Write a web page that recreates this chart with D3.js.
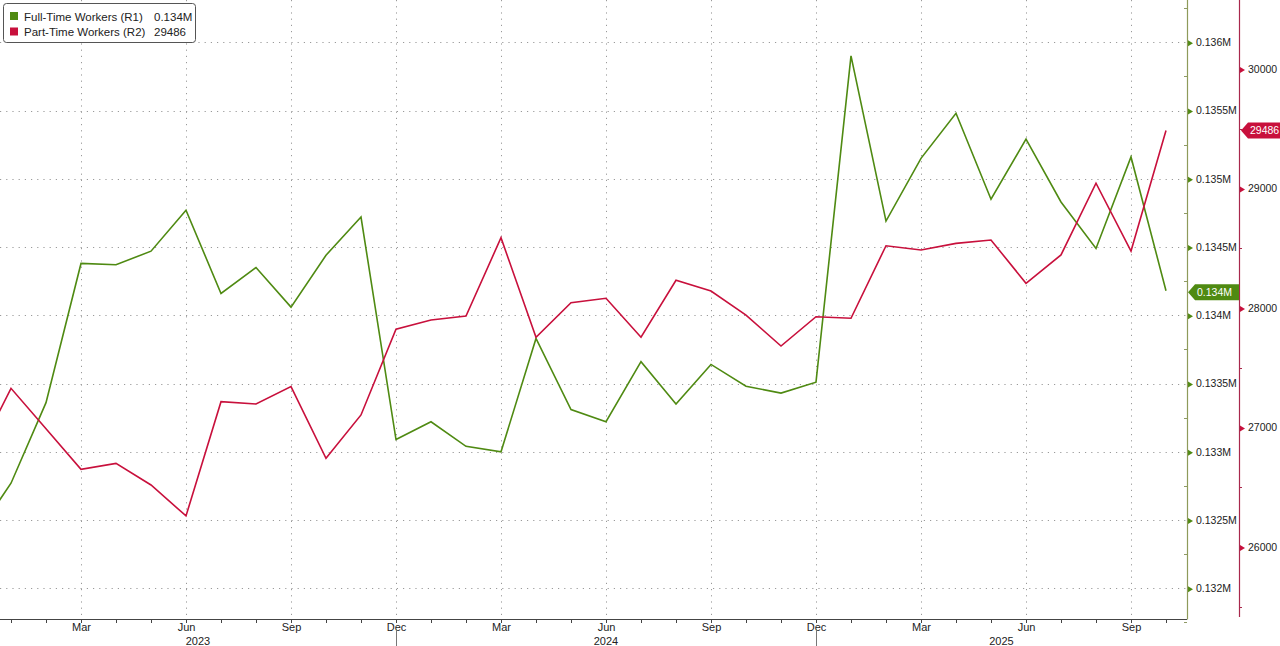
<!DOCTYPE html>
<html>
<head>
<meta charset="utf-8">
<script src="https://cdn.jsdelivr.net/npm/d3@7"></script>
<style>
  body { margin: 0; background: #fff; }
  svg { display: block; font-family: "Liberation Sans", Arial, sans-serif; }
</style>
</head>
<body>
<svg id="chart"></svg>
<script>
// monthly points, Dec 2022 .. Oct 2025 (first one sits just off the left edge)
var months = d3.timeMonth.range(new Date(2022, 11, 1), new Date(2025, 10, 1))

var fullTime = [0.13239, 0.13277, 0.13336, 0.13438, 0.13437, 0.13447, 0.13477, 0.13416, 0.13435, 0.13406,
  0.13444, 0.13472, 0.13309, 0.13322, 0.13304, 0.13300, 0.13383, 0.13331, 0.13322, 0.13366,
  0.13335, 0.13364, 0.13348, 0.13343, 0.13351, 0.13590, 0.13469, 0.13515, 0.13548, 0.13485,
  0.13529, 0.13483, 0.13449, 0.13516, 0.13418]

var partTime = [26745, 27328, 26990, 26650, 26700, 26519, 26260, 27216, 27197, 27342,
  26742, 27105, 27822, 27900, 27933, 28588, 27755, 28044, 28081, 27755,
  28232, 28142, 27941, 27682, 27927, 27914, 28521, 28485, 28541, 28569,
  28207, 28444, 29044, 28477, 29486]

var greenTicks = [0.132, 0.1325, 0.133, 0.1335, 0.134, 0.1345, 0.135, 0.1355, 0.136]
var greenMinor = [0.13175, 0.13225, 0.13275, 0.13325, 0.13375, 0.13425, 0.13475, 0.13525, 0.13575, 0.13625]
var redTicks = [26000, 27000, 28000, 29000, 30000]
var redMinor = [25500, 26500, 27500, 28500, 29500]
var years = ["2023", "2024", "2025"]

var legendItems = [
  {name: "Full-Time Workers (R1)", value: "0.134M", color: "#4f8a12"},
  {name: "Part-Time Workers (R2)", value: "29486", color: "#c8103c"}
]

var width = 1280
var height = 646
var plotRight = 1187
var plotBottom = 619
var redAxisX = 1239

var GREEN = "#4f8a12"
var RED = "#c8103c"

var svg = d3.select("#chart").attr("width", width).attr("height", height)
svg.append("rect").attr("width", width).attr("height", height).attr("fill", "#fff")

var x = d3.scaleLinear().domain([1, 34]).range([11, 1166])
var yG = d3.scaleLinear().domain([0.132, 0.136]).range([588.3, 42.3])
var yR = d3.scaleLinear().domain([26000, 30000]).range([547, 69])

svg.append("clipPath").attr("id", "plotClip")
  .append("rect").attr("x", 0).attr("y", 0).attr("width", plotRight).attr("height", plotBottom)

var monthIdx = d3.range(1, months.length).filter(i => x(i) <= plotRight)
var quarterIdx = monthIdx.filter(i => months[i].getMonth() % 3 === 2)
var decIdx = monthIdx.filter(i => months[i].getMonth() === 11)

// grid
var grid = svg.append("g").attr("stroke", "#9a9a9a").attr("stroke-dasharray", "1.2,5")
grid.selectAll(".hg").data(greenTicks).enter().append("line")
  .attr("x1", 0).attr("x2", plotRight)
  .attr("y1", d => Math.round(yG(d)) + 0.5).attr("y2", d => Math.round(yG(d)) + 0.5)
grid.selectAll(".vg").data(quarterIdx).enter().append("line")
  .attr("x1", d => Math.round(x(d)) + 0.5).attr("x2", d => Math.round(x(d)) + 0.5)
  .attr("y1", 0).attr("y2", plotBottom)

// lines
var plot = svg.append("g").attr("clip-path", "url(#plotClip)")
plot.append("path")
  .datum(fullTime)
  .attr("fill", "none").attr("stroke", GREEN).attr("stroke-width", 1.6)
  .attr("d", d3.line().x((d, i) => x(i)).y(d => yG(d)))
plot.append("path")
  .datum(partTime)
  .attr("fill", "none").attr("stroke", RED).attr("stroke-width", 1.6)
  .attr("d", d3.line().x((d, i) => x(i)).y(d => yR(d)))

// bottom axis
var fmtMonth = d3.timeFormat("%b")
var xAxisG = svg.append("g").attr("transform", `translate(0,${plotBottom})`)
xAxisG.call(d3.axisBottom(x).tickValues(monthIdx).tickSize(4).tickFormat(""))
xAxisG.select(".domain").remove()
xAxisG.selectAll(".tick line").attr("stroke", "#444")
xAxisG.append("line").attr("x1", 0).attr("x2", plotRight).attr("y1", 0.5).attr("y2", 0.5).attr("stroke", "#444")

var xLab = svg.append("g").attr("transform", `translate(0,${plotBottom})`)
xLab.call(d3.axisBottom(x).tickValues(quarterIdx).tickSize(0).tickPadding(4).tickFormat(i => fmtMonth(months[i])))
xLab.select(".domain").remove()
xLab.selectAll("text").attr("font-family", "Liberation Sans, Arial, sans-serif").attr("font-size", 11).attr("fill", "#222")

svg.selectAll(".ysep").data(decIdx).enter().append("line")
  .attr("x1", d => Math.round(x(d)) + 0.5).attr("x2", d => Math.round(x(d)) + 0.5)
  .attr("y1", plotBottom + 10).attr("y2", height)
  .attr("stroke", "#777")

var bounds = [0].concat(decIdx.map(d => x(d))).concat([plotRight])
svg.selectAll(".yearLab").data(years).enter().append("text")
  .attr("x", (d, i) => (bounds[i] + bounds[i + 1]) / 2)
  .attr("y", 645)
  .attr("text-anchor", "middle")
  .attr("font-size", 11).attr("fill", "#222")
  .text(d => d)

// right axes
function triangle(x0, y0) {
  return `M${x0},${y0 - 3}L${x0 + 5},${y0}L${x0},${y0 + 3}Z`
}

var gAxis = svg.append("g").attr("transform", `translate(${plotRight},0)`)
gAxis.call(d3.axisRight(yG).tickValues(greenTicks).tickSize(0).tickPadding(9)
  .tickFormat(d => +d.toFixed(4) + "M"))
gAxis.select(".domain").remove()
gAxis.selectAll("text").attr("font-family", "Liberation Sans, Arial, sans-serif").attr("font-size", 10.5).attr("fill", "#222")
gAxis.selectAll(".tick").append("path").attr("d", triangle(1, 0.5)).attr("fill", GREEN)
gAxis.selectAll(".minor").data(greenMinor).enter().append("line")
  .attr("x1", -3).attr("x2", 0)
  .attr("y1", d => Math.round(yG(d)) + 0.5).attr("y2", d => Math.round(yG(d)) + 0.5)
  .attr("stroke", "#8f9a66")
gAxis.append("line").attr("x1", 0.5).attr("x2", 0.5).attr("y1", 0).attr("y2", plotBottom + 0.5)
  .attr("stroke", "#8e9a5a").attr("stroke-width", 1.2)

var rAxis = svg.append("g").attr("transform", `translate(${redAxisX},0)`)
rAxis.call(d3.axisRight(yR).tickValues(redTicks).tickSize(0).tickPadding(9).tickFormat(d3.format("d")))
rAxis.select(".domain").remove()
rAxis.selectAll("text").attr("font-family", "Liberation Sans, Arial, sans-serif").attr("font-size", 10.5).attr("fill", "#222")
rAxis.selectAll(".tick").append("path").attr("d", triangle(1, 0.5)).attr("fill", RED)
rAxis.selectAll(".minor").data(redMinor).enter().append("line")
  .attr("x1", 0).attr("x2", 3)
  .attr("y1", d => Math.round(yR(d)) + 0.5).attr("y2", d => Math.round(yR(d)) + 0.5)
  .attr("stroke", "#a8284c")
rAxis.append("line").attr("x1", 0.5).attr("x2", 0.5).attr("y1", 0).attr("y2", plotBottom - 2)
  .attr("stroke", "#a8284c").attr("stroke-width", 1.2)

// last value flags
function flag(g, x0, w, cy, color, label) {
  g.append("path")
    .attr("d", `M${x0},${cy}L${x0 + 7},${cy - 8}L${x0 + w},${cy - 8}L${x0 + w},${cy + 8}L${x0 + 7},${cy + 8}Z`)
    .attr("fill", color)
  g.append("text").attr("x", x0 + 9).attr("y", cy + 4)
    .attr("font-size", 10.5).attr("fill", "#fff").text(label)
}
var flags = svg.append("g")
flag(flags, plotRight + 1, 51, yG(fullTime[fullTime.length - 1]) + 1.5, GREEN, legendItems[0].value)
flag(flags, redAxisX + 2, 41, yR(partTime[partTime.length - 1]), RED, legendItems[1].value)

// legend
var legend = svg.append("g")
legend.append("rect")
  .attr("x", 3.5).attr("y", 3.5).attr("width", 192).attr("height", 39).attr("rx", 3)
  .attr("fill", "#fff").attr("stroke", "#555")
var rows = legend.selectAll(".row").data(legendItems).enter().append("g")
  .attr("transform", (d, i) => `translate(0,${i * 15.5})`)
rows.append("rect").attr("x", 10).attr("y", 12).attr("width", 8).attr("height", 8).attr("fill", d => d.color)
rows.append("text").attr("x", 24).attr("y", 20.5).attr("font-size", 11.5).attr("fill", "#222").text(d => d.name)
rows.append("text").attr("x", 154).attr("y", 20.5).attr("font-size", 11.5).attr("fill", "#222").text(d => d.value)
</script>
</body>
</html>
